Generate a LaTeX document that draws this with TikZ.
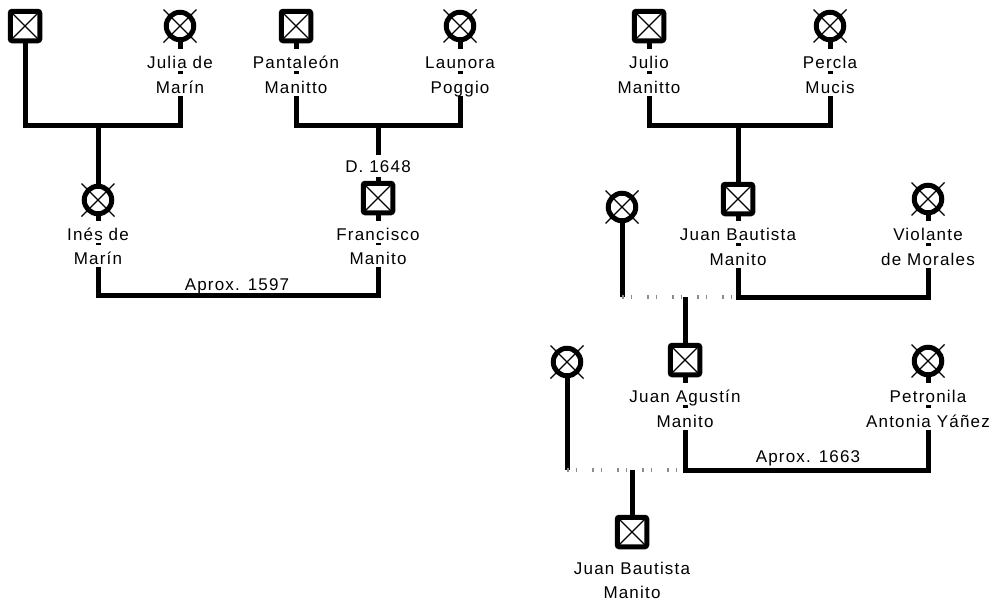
\documentclass[tikz,border=0pt]{standalone}
\usepackage{fontspec}
\setmainfont{Liberation Sans}[LetterSpace=7]
\usetikzlibrary{backgrounds}
\begin{document}
\begin{tikzpicture}[x=1pt,y=-1pt,
  male/.style={draw, line width=5pt, rounded corners=2pt, fill=white,
    minimum size=29.5pt, inner sep=0pt,
    path picture={\draw[line width=1.1pt]
      (path picture bounding box.north west) -- (path picture bounding box.south east)
      (path picture bounding box.north east) -- (path picture bounding box.south west);}},
  female/.style={draw, circle, line width=5pt, fill=white, minimum size=27.5pt, inner sep=0pt},
  cross/.style={line width=1.1pt},
  namebox/.style={font=\fontsize{17}{20}\selectfont, fill=white, inner sep=0pt,
    text height=19pt, text depth=3pt, anchor=base},
  datebox/.style={namebox, text height=17pt, text depth=5pt},
  tie/.style={line width=5pt, line join=miter},
  unknown/.style={gray!90, line width=4pt, dash pattern=on 1.6pt off 6.9pt on 1.6pt off 14.9pt},
]
\useasboundingbox (0,0) rectangle (995,603);

% ---- people ----
\node[male]   (p1)     at (25,26)   {};
\node[female] (julia)  at (180,26)  {};
\node[male]   (pant)   at (296,26)  {};
\node[female] (laun)   at (460,26)  {};
\node[male]   (julio)  at (649,26)  {};
\node[female] (percla) at (830,26)  {};
\node[female] (ines)   at (98,200)  {};
\node[male]   (fran)   at (378,198) {};
\node[female] (w1)     at (622,207) {};
\node[male]   (jb)     at (738,199) {};
\node[female] (vio)    at (928,199) {};
\node[female] (w2)     at (567,362) {};
\node[male]   (ja)     at (685,360) {};
\node[female] (petr)   at (928,361) {};
\node[male]   (jb2)    at (632,532) {};

\foreach \n in {julia,laun,percla,ines,w1,vio,w2,petr}
  \draw[cross] ([shift={(-16.5,-16.5)}]\n.center) -- ([shift={(16.5,16.5)}]\n.center)
               ([shift={(16.5,-16.5)}]\n.center) -- ([shift={(-16.5,16.5)}]\n.center);

% ---- names ----
\node[namebox] (julia1)  at (180,68)  {Julia de};
\node[namebox] (julia2)  at (180,93)  {Marín};
\node[namebox] (pant1)   at (296,68)  {Pantaleón};
\node[namebox] (pant2)   at (296,93)  {Manitto};
\node[namebox] (laun1)   at (460,68)  {Launora};
\node[namebox] (laun2)   at (460,93)  {Poggio};
\node[namebox] (julio1)  at (649,68)  {Julio};
\node[namebox] (julio2)  at (649,93)  {Manitto};
\node[namebox] (percla1) at (830,68)  {Percla};
\node[namebox] (percla2) at (830,93)  {Mucis};
\node[namebox] (ines1)   at (98,240)  {Inés de};
\node[namebox] (ines2)   at (98,264)  {Marín};
\node[namebox] (fran1)   at (378,240) {Francisco};
\node[namebox] (fran2)   at (378,264) {Manito};
\node[datebox] (franD)   at (378,172) {D. 1648};
\node[namebox] (jb1)     at (738,240) {Juan Bautista};
\node[namebox] (jb12)    at (738,265) {Manito};
\node[namebox] (vio1)    at (928,240) {Violante};
\node[namebox] (vio2)    at (928,265) {de Morales};
\node[namebox] (ja1)     at (685,402) {Juan Agustín};
\node[namebox] (ja2)     at (685,427) {Manito};
\node[namebox] (petr1)   at (928,402) {Petronila};
\node[namebox] (petr2)   at (928,427) {Antonia Yáñez};
\node[namebox] (jb21)    at (632,574) {Juan Bautista};
\node[namebox] (jb22)    at (632,598) {Manito};
\node[datebox, fill=none] (mar1) at (237,290) {Aprox. 1597};
\node[datebox, fill=none] (mar2) at (808,462) {Aprox. 1663};

% ---- unions ----
\coordinate (u1) at (98,125);
\coordinate (u2) at (378,125);
\coordinate (u3) at (738,125);
\coordinate (m1) at (685,297);
\coordinate (m2) at (632,470);

\begin{scope}[on background layer]
  \draw[tie] (p1.center) |- (u1) -| (julia.center);
  \draw[tie] (u1) -- (ines.center);
  \draw[tie] (pant.center) |- (u2) -| (laun.center);
  \draw[tie] (u2) -- (fran.center);
  \draw[tie] (ines.center) -- (ines.center |- 0,295) -| (fran.center);
  \draw[tie] (julio.center) |- (u3) -| (percla.center);
  \draw[tie] (u3) -- (jb.center);

  \draw[tie] (w1.center) -- (w1.center |- m1);
  \draw[unknown] (w1.center |- m1) -- (jb.center |- m1);
  \draw[tie] (jb.center) -- (jb.center |- m1) -| (vio.center);
  \draw[tie] (m1) -- (ja.center);

  \draw[tie] (w2.center) -- (w2.center |- m2);
  \draw[unknown] (w2.center |- m2) -- (ja.center |- m2);
  \draw[tie] (ja.center) -- (ja.center |- m2) -| (petr.center);
  \draw[tie] (m2) -- (jb2.center);
\end{scope}
\end{tikzpicture}
\end{document}
